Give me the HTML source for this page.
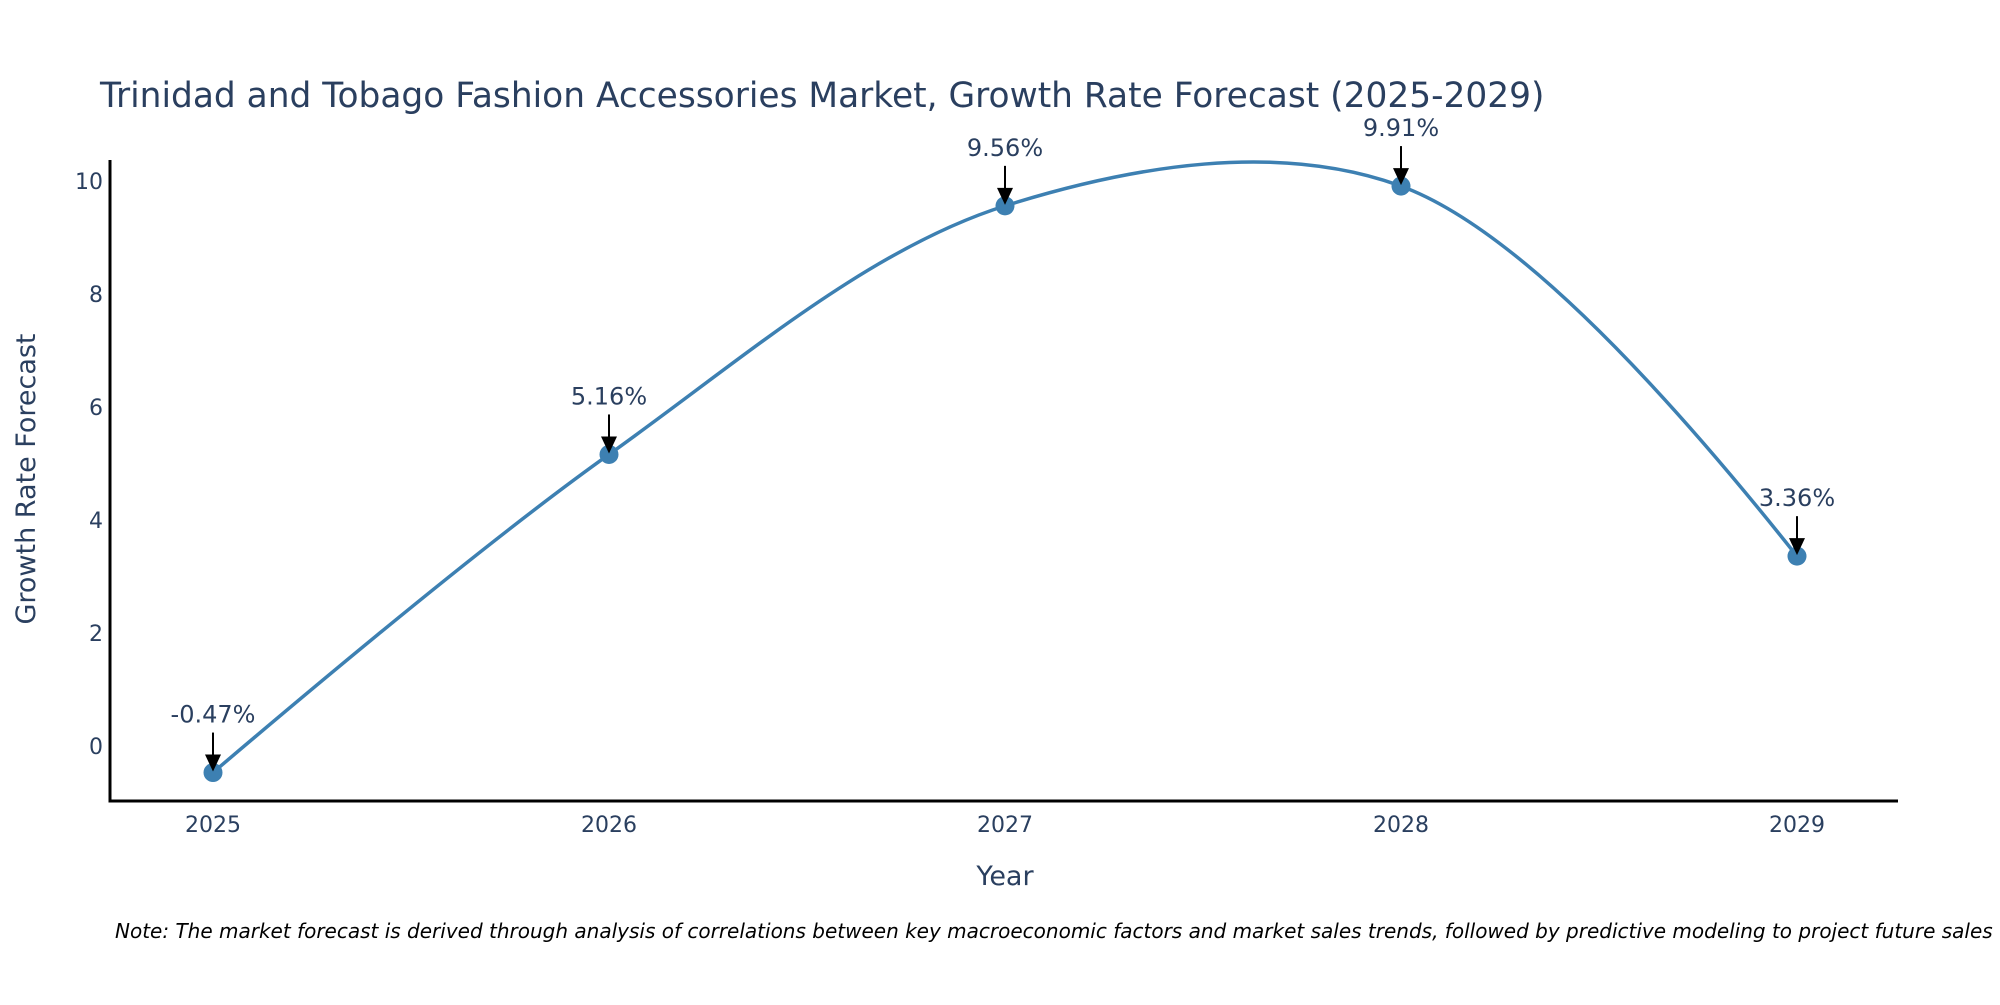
<!DOCTYPE html>
<html>
<head>
<meta charset="utf-8">
<style>
  html, body { margin: 0; padding: 0; background: #fff; }
  body { width: 2000px; height: 1000px; overflow: hidden; }
  svg text { font-family: "DejaVu Sans", "Liberation Sans", sans-serif; fill: #2a3f5f; }
</style>
</head>
<body>
<svg id="chart" width="2000" height="1000" viewBox="0 0 2000 1000" xmlns="http://www.w3.org/2000/svg">
  <text x="100" y="107" font-size="34.4">Trinidad and Tobago Fashion Accessories Market, Growth Rate Forecast (2025-2029)</text>
  <g id="plot"></g>
  <text x="1005" y="885" font-size="27" text-anchor="middle">Year</text>
  <text x="0" y="0" font-size="27" text-anchor="middle" transform="translate(35,479) rotate(-90)">Growth Rate Forecast</text>
  <text x="115" y="938" font-size="20" font-style="italic" style="fill:#000">Note: The market forecast is derived through analysis of correlations between key macroeconomic factors and market sales trends, followed by predictive modeling to project future sales</text>
</svg>
<script>
const years = [2025, 2026, 2027, 2028, 2029];
const growth = [-0.47, 5.16, 9.56, 9.91, 3.36];
const labels = ["-0.47%", "5.16%", "9.56%", "9.91%", "3.36%"];
const yTicks = [0, 2, 4, 6, 8, 10];

const NS = "http://www.w3.org/2000/svg";
const plot = document.getElementById("plot");
const AX_L = 110, AX_R = 1898, AX_T = 160, AX_B = 801;
function xScale(v) { return 213 + (v - 2025) * 396; }
function yScale(v) { return 746 - v * 56.5; }
function mk(tag, attrs) {
  const e = document.createElementNS(NS, tag);
  for (const k in attrs) e.setAttribute(k, attrs[k]);
  return e;
}

const yAxis = mk("line", {x1: AX_L, y1: AX_T, x2: AX_L, y2: AX_B + 1.5, stroke: "#000", "stroke-width": 3});


plot.appendChild(yAxis);
const xAxis = mk("line", {x1: AX_L - 1.5, y1: AX_B, x2: AX_R, y2: AX_B, stroke: "#000", "stroke-width": 3});


plot.appendChild(xAxis);

yTicks.forEach(t => {
  const tx = mk("text", {x: 103, y: yScale(t) + 8, "font-size": 22, "text-anchor": "end"});
  tx.textContent = String(t);
  
  
  plot.appendChild(tx);
});
years.forEach(y => {
  const tx = mk("text", {x: xScale(y), y: 832, "font-size": 22, "text-anchor": "middle"});
  tx.textContent = String(y);
  
  
  plot.appendChild(tx);
});

const pts = years.map((y, i) => [xScale(y), yScale(growth[i])]);
function tangent(p, c, n) {
  const d1x = p[0]-c[0], d1y = p[1]-c[1], d2x = n[0]-c[0], d2y = n[1]-c[1];
  const d1a = Math.pow(d1x*d1x + d1y*d1y, 0.25), d2a = Math.pow(d2x*d2x + d2y*d2y, 0.25);
  const numx = (d2a*d2a*d1x - d1a*d1a*d2x), numy = (d2a*d2a*d1y - d1a*d1a*d2y);
  const den1 = 3*d2a*(d1a+d2a), den2 = 3*d1a*(d1a+d2a);
  return [[c[0]+numx/den1, c[1]+numy/den1], [c[0]-numx/den2, c[1]-numy/den2]];
}
const tans = [];
for (let i = 1; i < pts.length - 1; i++) tans.push(tangent(pts[i-1], pts[i], pts[i+1]));
const f = p => p[0].toFixed(2) + "," + p[1].toFixed(2);
let d = "M" + f(pts[0]) + "Q" + f(tans[0][0]) + " " + f(pts[1]);
for (let i = 2; i < pts.length - 1; i++) d += "C" + f(tans[i-2][1]) + " " + f(tans[i-1][0]) + " " + f(pts[i]);
d += "Q" + f(tans[pts.length-3][1]) + " " + f(pts[pts.length-1]);
const line = mk("path", {d: d, fill: "none", stroke: "#3d80b2", "stroke-width": 3.5});


plot.appendChild(line);

pts.forEach((p, i) => {
  const c = mk("circle", {cx: p[0], cy: p[1], r: 9.5, fill: "#3d80b2"});
  
  
  plot.appendChild(c);
  const shaft = mk("line", {x1: p[0], y1: p[1] - 40, x2: p[0], y2: p[1] - 14, stroke: "#000", "stroke-width": 2});
  
  
  plot.appendChild(shaft);
  const head = mk("polygon", {points: (p[0]-8)+","+(p[1]-18)+" "+(p[0]+8)+","+(p[1]-18)+" "+p[0]+","+(p[1]-1), fill: "#000"});
  
  
  plot.appendChild(head);
  const t = mk("text", {x: p[0], y: p[1] - 50, "font-size": 24, "text-anchor": "middle"});
  t.textContent = labels[i];
  
  
  plot.appendChild(t);
});
</script>
</body>
</html>
